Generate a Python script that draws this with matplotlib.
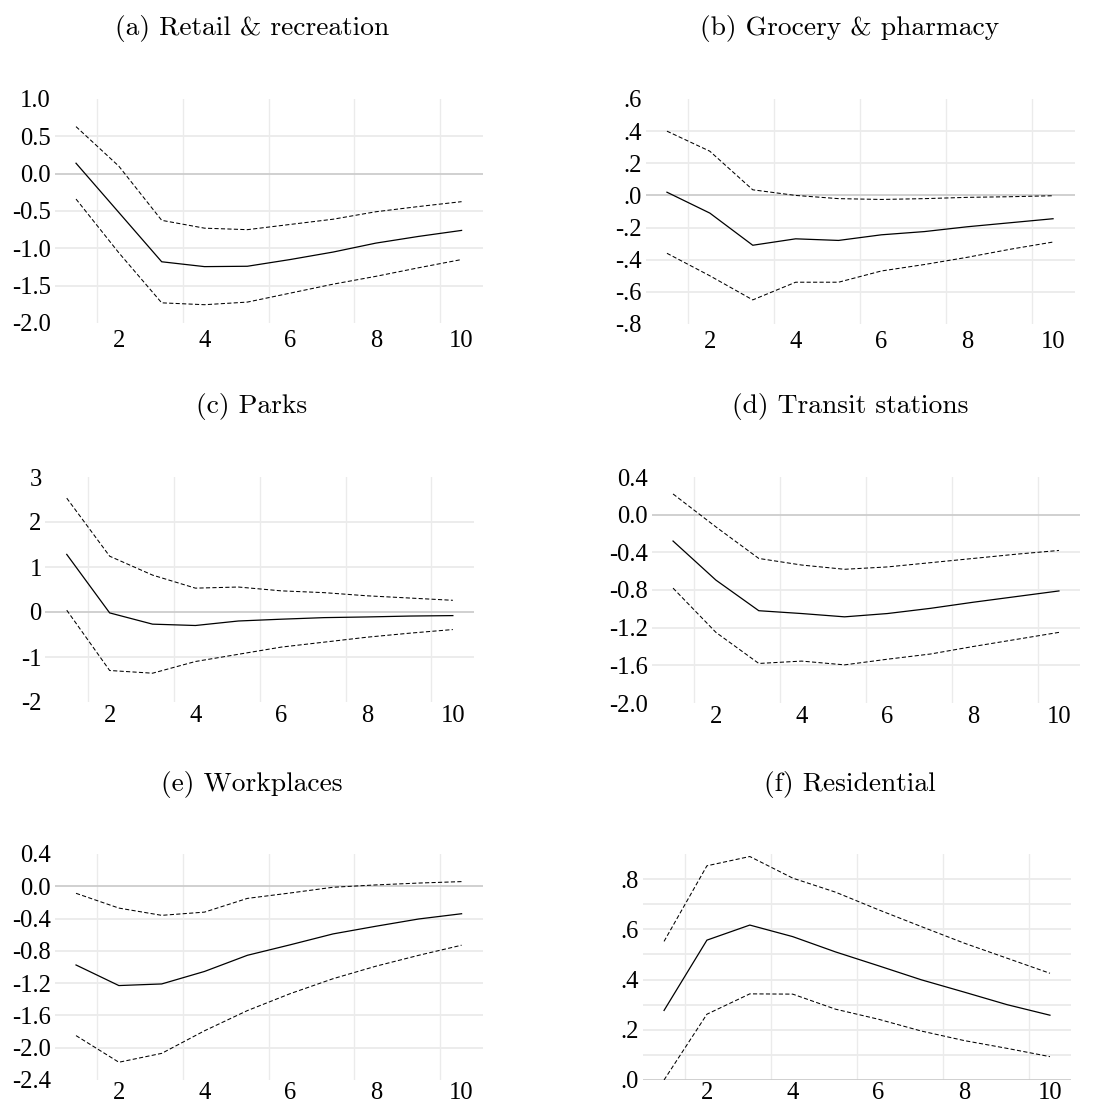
import matplotlib
matplotlib.use("Agg")
import matplotlib.pyplot as plt
import numpy as np

# horizon (weeks) and the six mobility categories
horizon = [1, 2, 3, 4, 5, 6, 7, 8, 9, 10]
titles = ["(a) Retail & recreation", "(b) Grocery & pharmacy", "(c) Parks",
          "(d) Transit stations", "(e) Workplaces", "(f) Residential"]

retail_mid = [0.14, -0.52, -1.18, -1.245, -1.24, -1.15, -1.05, -0.93, -0.84, -0.76]
retail_hi = [0.63, 0.10, -0.625, -0.73, -0.75, -0.68, -0.61, -0.51, -0.44, -0.375]
retail_lo = [-0.34, -1.06, -1.73, -1.755, -1.72, -1.60, -1.48, -1.375, -1.26, -1.15]

grocery_mid = [0.02, -0.11, -0.31, -0.27, -0.28, -0.245, -0.225, -0.195, -0.17, -0.145]
grocery_hi = [0.40, 0.275, 0.035, 0.0, -0.02, -0.025, -0.02, -0.012, -0.008, -0.002]
grocery_lo = [-0.36, -0.50, -0.65, -0.54, -0.54, -0.47, -0.43, -0.385, -0.335, -0.29]

parks_mid = [1.28, -0.02, -0.27, -0.30, -0.20, -0.16, -0.125, -0.11, -0.09, -0.08]
parks_hi = [2.53, 1.24, 0.82, 0.53, 0.555, 0.47, 0.43, 0.36, 0.31, 0.26]
parks_lo = [0.04, -1.30, -1.36, -1.10, -0.94, -0.78, -0.67, -0.56, -0.47, -0.39]

transit_mid = [-0.28, -0.695, -1.02, -1.05, -1.085, -1.05, -0.995, -0.93, -0.87, -0.81]
transit_hi = [0.22, -0.13, -0.465, -0.535, -0.58, -0.555, -0.51, -0.465, -0.42, -0.38]
transit_lo = [-0.78, -1.25, -1.58, -1.555, -1.595, -1.535, -1.48, -1.40, -1.325, -1.25]

work_mid = [-0.975, -1.23, -1.21, -1.055, -0.855, -0.725, -0.59, -0.495, -0.405, -0.34]
work_hi = [-0.087, -0.27, -0.36, -0.32, -0.15, -0.083, -0.012, 0.017, 0.04, 0.058]
work_lo = [-1.85, -2.18, -2.07, -1.79, -1.54, -1.33, -1.145, -0.99, -0.855, -0.73]

resid_mid = [0.277, 0.557, 0.617, 0.571, 0.51, 0.455, 0.399, 0.35, 0.30, 0.258]
resid_hi = [0.552, 0.853, 0.89, 0.804, 0.748, 0.678, 0.611, 0.545, 0.485, 0.425]
resid_lo = [0.0, 0.262, 0.343, 0.342, 0.282, 0.242, 0.195, 0.157, 0.126, 0.093]

xticks = [2, 4, 6, 8, 10]
xgrid = [1.5, 3.5, 5.5, 7.5, 9.5]

yticks_a = [1.0, 0.5, 0.0, -0.5, -1.0, -1.5, -2.0]
ylabels_a = ["1.0", "0.5", "0.0", "-0.5", "-1.0", "-1.5", "-2.0"]
yticks_b = [0.6, 0.4, 0.2, 0.0, -0.2, -0.4, -0.6, -0.8]
ylabels_b = [".6", ".4", ".2", ".0", "-.2", "-.4", "-.6", "-.8"]
yticks_c = [3, 2, 1, 0, -1, -2]
ylabels_c = ["3", "2", "1", "0", "-1", "-2"]
yticks_d = [0.4, 0.0, -0.4, -0.8, -1.2, -1.6, -2.0]
ylabels_d = ["0.4", "0.0", "-0.4", "-0.8", "-1.2", "-1.6", "-2.0"]
yticks_e = [0.4, 0.0, -0.4, -0.8, -1.2, -1.6, -2.0, -2.4]
ylabels_e = ["0.4", "0.0", "-0.4", "-0.8", "-1.2", "-1.6", "-2.0", "-2.4"]
yticks_f = [0.8, 0.6, 0.4, 0.2, 0.0]
ylabels_f = [".8", ".6", ".4", ".2", ".0"]

panels = [
    (retail_mid, retail_hi, retail_lo, yticks_a, ylabels_a, (-2.0, 1.0), []),
    (grocery_mid, grocery_hi, grocery_lo, yticks_b, ylabels_b, (-0.8, 0.6), []),
    (parks_mid, parks_hi, parks_lo, yticks_c, ylabels_c, (-2, 3), []),
    (transit_mid, transit_hi, transit_lo, yticks_d, ylabels_d, (-2.0, 0.4), []),
    (work_mid, work_hi, work_lo, yticks_e, ylabels_e, (-2.4, 0.4), []),
    (resid_mid, resid_hi, resid_lo, yticks_f, ylabels_f, (0.0, 0.9), [0.7, 0.5, 0.3, 0.1]),
]

W, H = 1106, 1108
# axes boxes in pixels: left, top, right, bottom
boxes = [
    (54.6, 99, 483.0, 323),
    (645.5, 99, 1074.5, 324),
    (45.3, 477, 474.3, 702),
    (651.6, 477, 1080.4, 703),
    (54.6, 854, 483.0, 1080),
    (642.6, 854, 1071.4, 1080),
]
xpads = [4.8, 4.8, 2.0, 2.0, 1.2, 1.2]
title_pos = [(252, 28), (850, 28), (252, 406), (850, 406), (252, 784), (850, 784)]

fig = plt.figure(figsize=(W / 100, H / 100), dpi=100)

tick_font = "Liberation Serif"
grid_c = "#ebebeb"

for i, (mid, hi, lo, yt, yl, ylim, minor) in enumerate(panels):
    l, t, r, b = boxes[i]
    ax = fig.add_axes([l / W, 1 - b / H, (r - l) / W, (b - t) / H])
    ax.set_xlim(0.5, 10.5)
    ax.set_ylim(*ylim)

    # grid
    for g in xgrid:
        ax.axvline(g, color=grid_c, lw=1.0, zorder=0)
    for v in list(yt) + minor:
        if v == 0:
            ax.axhline(0, color="#cdcdcd", lw=1.3, zorder=1)
        elif ylim[0] < v < ylim[1]:
            ax.axhline(v, color=grid_c, lw=1.3, zorder=0)

    ax.plot(horizon, mid, color="black", lw=0.9, zorder=3)
    ax.plot(horizon, hi, color="black", lw=0.75, ls=(0, (4, 2.2)), zorder=3)
    ax.plot(horizon, lo, color="black", lw=0.75, ls=(0, (4, 2.2)), zorder=3)

    ax.set_xticks(xticks)
    ax.set_xticklabels([str(x) for x in xticks], fontfamily=tick_font, fontsize=17.7)
    ax.set_yticks(yt)
    ax.set_yticklabels(yl, fontfamily=tick_font, fontsize=17.7)
    ax.tick_params(axis="both", length=0, colors="black")
    ax.tick_params(axis="x", pad=xpads[i])
    ax.tick_params(axis="y", pad=2.6)
    for s in ax.spines.values():
        s.set_visible(False)

    tx, ty = title_pos[i]
    fig.text(tx / W, 1 - ty / H, titles[i], ha="center", va="center",
             fontfamily="cmr10", fontsize=19.8)

fig.savefig("out.png", dpi=100, facecolor="white")
